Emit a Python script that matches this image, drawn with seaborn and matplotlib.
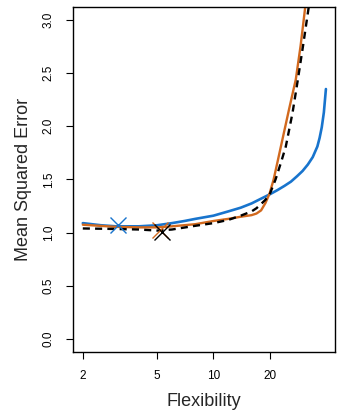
import numpy as np
import pandas as pd
import matplotlib
matplotlib.use("Agg")
import matplotlib.pyplot as plt
import seaborn as sns

# ---- data ----
blue_x = [2, 2.5, 3, 4, 5, 6, 7, 8, 10, 12, 14, 16, 18, 20, 22, 24, 26, 28, 30,
          32, 34, 36, 37, 38, 39, 40]
blue_y = [1.09, 1.07, 1.06, 1.06, 1.07, 1.09, 1.11, 1.13, 1.16, 1.20, 1.235, 1.275, 1.32, 1.36,
          1.40, 1.44, 1.48, 1.53, 1.58, 1.64, 1.71, 1.81, 1.89, 1.99, 2.13, 2.35]

orange_x = [2, 3, 4, 5, 6, 8, 10, 12, 14, 16, 17, 18, 19, 20, 21, 22, 23.4, 25.4,
            27.6, 29.3, 31, 33]
orange_y = [1.075, 1.055, 1.05, 1.05, 1.06, 1.08, 1.11, 1.13, 1.15, 1.165, 1.18, 1.21, 1.28,
            1.37, 1.50, 1.66, 1.875, 2.16, 2.44, 2.76, 3.12, 3.45]

black_x = [2, 3, 4, 5, 6, 8, 10, 12, 14, 16, 17, 18, 19, 20, 21.5, 23, 24.4, 26.5,
           28.2, 30.2, 32.3, 34]
black_y = [1.04, 1.035, 1.03, 1.02, 1.03, 1.065, 1.09, 1.12, 1.16, 1.20, 1.23, 1.27, 1.31,
           1.36, 1.50, 1.66, 1.81, 2.125, 2.42, 2.76, 3.11, 3.45]

min_x = [3.08, 5.2, 5.3]
min_y = [1.07, 1.03, 1.01]
min_series = ["blue", "orange", "black"]

x_ticks = [2, 5, 10, 20]
y_ticks = [0.0, 0.5, 1.0, 1.5, 2.0, 2.5, 3.0]

BLUE = "#1874CD"
ORANGE = "#D2691E"
BLACK = "#000000"
colors = {"blue": BLUE, "orange": ORANGE, "black": BLACK}

sns.set_style("white")
plt.rcParams["font.family"] = ["Liberation Sans", "DejaVu Sans"]

fig = plt.figure(figsize=(3.39, 4.15), dpi=100)
ax = fig.add_axes([0.215, 0.152, 0.773, 0.831])

sns.lineplot(x=blue_x, y=blue_y, color=BLUE, linewidth=1.9, ax=ax, sort=False)
sns.lineplot(x=orange_x, y=orange_y, color=ORANGE, linewidth=1.7, ax=ax, sort=False)
sns.lineplot(x=black_x, y=black_y, color=BLACK, linewidth=1.7, ax=ax, sort=False,
             linestyle=(0, (3, 2.2)))

for xs, ys, s in zip(min_x, min_y, min_series):
    ax.plot([xs], [ys], marker="x", markersize=12, markeredgewidth=1.0,
            color=colors[s], linestyle="none")

ax.set_xscale("log")
ax.set_xlim(1.77, 44.7)
ax.set_ylim(-0.12, 3.12)
ax.set_xticks(x_ticks)
ax.set_xticklabels([str(t) for t in x_ticks])
ax.minorticks_off()
ax.set_yticks(y_ticks)
ax.set_yticklabels([f"{t:.1f}" for t in y_ticks], rotation=90, va="center")

ax.tick_params(axis="both", direction="out", length=5, width=0.8, labelsize=8.5,
               colors="black", pad=8, bottom=True, left=True)
for sp in ax.spines.values():
    sp.set_color("black")
    sp.set_linewidth(1.0)

ax.set_xlabel("Flexibility", fontsize=13, labelpad=8)
ax.set_ylabel("Mean Squared Error", fontsize=13, labelpad=8)

fig.savefig("out.png", dpi=100)
